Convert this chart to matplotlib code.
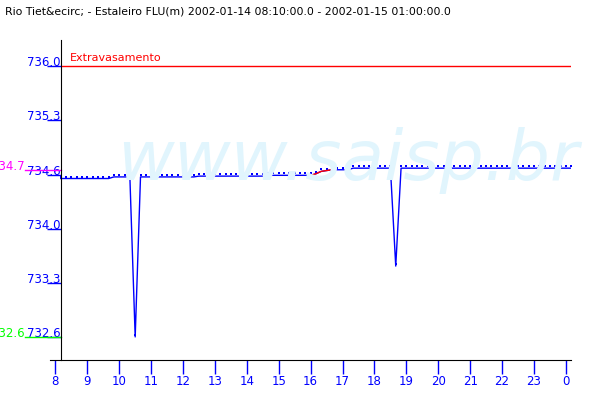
import numpy as np
import matplotlib
matplotlib.use("Agg")
import matplotlib.pyplot as plt
import matplotlib.transforms as mtransforms

title = "Rio Tiet&ecirc; - Estaleiro FLU(m) 2002-01-14 08:10:00.0 - 2002-01-15 01:00:00.0"

# water level (m), one sample every 10 minutes starting at 08:10
levels = [
    734.59, 734.59, 734.59, 734.59, 734.59, 734.59, 734.59, 734.59, 734.59, 734.59,
    734.61, 734.61, 734.61, 734.61, 732.60,
    734.61, 734.61, 734.61, 734.61, 734.61, 734.61, 734.61, 734.61, 734.61, 734.61, 734.61,
    734.62, 734.62, 734.62, 734.62, 734.62, 734.62, 734.62, 734.62, 734.62, 734.62, 734.62, 734.62, 734.62,
    734.63, 734.63, 734.63, 734.63, 734.63, 734.63, 734.63, 734.63, 734.63,
    734.65, 734.68, 734.69,
    734.70, 734.70, 734.70, 734.70,
    734.72, 734.72, 734.72, 734.72, 734.72, 734.72, 734.72, 734.72,
    733.49,
    734.72, 734.72, 734.72, 734.72, 734.72, 734.72, 734.72, 734.72, 734.72, 734.72, 734.72,
    734.72, 734.72, 734.72, 734.72, 734.72, 734.72, 734.72, 734.72, 734.72, 734.72, 734.72,
    734.72, 734.72, 734.72, 734.72, 734.72, 734.72, 734.72, 734.72, 734.72, 734.72, 734.72,
]
start_hour = 8 + 10 / 60
hours = start_hour + np.arange(len(levels)) / 6.0

# stretch drawn in red
red_from, red_to = 47, 51

overflow_level = 736.0
overflow_label = "Extravasamento"
max_level = 734.7
min_level = 732.6

hour_ticks = list(range(8, 25))
hour_labels = [str(h % 24) for h in hour_ticks]
level_ticks = np.linspace(min_level, overflow_level, 6)

blue = "#0000ff"

fig = plt.figure(figsize=(6, 4), dpi=100)
ax = fig.add_axes([50 / 600, 0.1, 521 / 600, 0.8])

ax.plot(hours, levels, color=blue, linewidth=1.0)
dots = mtransforms.offset_copy(ax.transData, fig=fig, x=0, y=2, units="dots")
ax.plot(hours, levels, linestyle="none", marker="s", markersize=1.44,
        markeredgewidth=0, color=blue, transform=dots)
ax.plot(hours[red_from:red_to + 1], levels[red_from:red_to + 1],
        color="red", linewidth=1.0)

end_hour = hours[-1]
ax.hlines(overflow_level, start_hour, end_hour, color="red", linewidth=1.0)
ax.text(start_hour + 0.28, overflow_level + 0.04, overflow_label, color="red",
        fontsize=8, va="bottom", ha="left")

# max / min markers left of the axis
side = mtransforms.blended_transform_factory(ax.transAxes, ax.transData)
for val, col in [(max_level, "magenta"), (min_level, "#00ff00")]:
    ax.plot([-0.048, 0.021], [val, val], color=col, linewidth=1.0,
            transform=side, clip_on=False)
    ax.text(-0.048, val, f"{val:.1f}", color=col, fontsize=8.5,
            ha="right", va="baseline", transform=side, clip_on=False)

# watermark
fig.text(0.195, 0.55, "www.saisp.br", fontsize=50, style="italic",
         color="#e1f5fd", ha="left", va="baseline", zorder=0)
ax.set_facecolor("none")

ax.set_xlim(7.83, 24.16)
ax.set_ylim(732.31, 736.33)
ax.spines["top"].set_visible(False)
ax.spines["right"].set_visible(False)
ax.spines["left"].set_position(("data", start_hour))

ax.set_xticks(hour_ticks)
ax.set_xticklabels(hour_labels)
ax.set_yticks(level_ticks)
ax.set_yticklabels([f"{v:.1f}" for v in level_ticks])
ax.tick_params(axis="x", direction="out", length=10, width=1, color=blue,
               labelcolor=blue, labelsize=8.5, pad=1)
ax.tick_params(axis="y", direction="out", length=10, width=1, color=blue,
               labelcolor=blue, labelsize=8.5, pad=-10)
plt.setp(ax.get_yticklabels(), va="baseline")

fig.text(5 / 600, 1 - 12 / 400, title, fontsize=7.8, va="center", ha="left")

fig.savefig("out.png", dpi=100, facecolor="white")
